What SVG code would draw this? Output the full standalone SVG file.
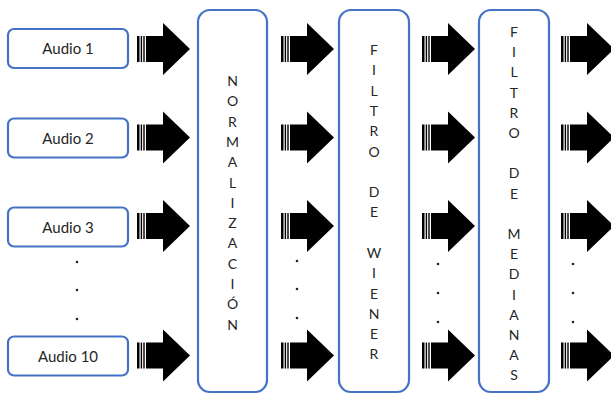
<svg xmlns="http://www.w3.org/2000/svg" xmlns:xlink="http://www.w3.org/1999/xlink" width="611" height="394" viewBox="0 0 611 394">
  <style>
    .src { fill: #ffffff; stroke: #4472c4; stroke-width: 2.2; }
    .stage { fill: #ffffff; stroke: #4472c4; stroke-width: 2.2; }
    .lbl { font-family: Lato, "Liberation Sans", sans-serif; font-size: 15px; fill: #262626; text-anchor: middle; }
    .vlbl { font-family: Lato, "Liberation Sans", sans-serif; font-size: 14px; fill: #262626; text-anchor: middle; }
    .dot { fill: #262626; }
  </style>
  <defs>
    <!-- striped block arrow, origin at left edge / vertical centre -->
    <g id="arrow">
      <rect x="0" y="-13" width="2.5" height="26" fill="#000"/>
      <rect x="3.7" y="-13" width="1.4" height="26" fill="#000"/>
      <rect x="6.3" y="-13" width="1.4" height="26" fill="#000"/>
      <polygon points="9,-13 26,-13 26,-26 53,0 26,26 26,13 9,13" fill="#000"/>
    </g>
  </defs>

  <rect width="611" height="394" fill="#ffffff"/>

  <g id="audio1">
    <rect class="src" x="8" y="29" width="120" height="39" rx="6"/>
    <text class="lbl" x="68" y="54">Audio 1</text>
  </g>
  <g id="audio2">
    <rect class="src" x="8" y="118.5" width="120" height="39" rx="6"/>
    <text class="lbl" x="68" y="143.5">Audio 2</text>
  </g>
  <g id="audio3">
    <rect class="src" x="8" y="207.5" width="120" height="39" rx="6"/>
    <text class="lbl" x="68" y="232.5">Audio 3</text>
  </g>
  <g id="audio10">
    <rect class="src" x="8" y="336.5" width="120" height="39" rx="6"/>
    <text class="lbl" x="68" y="361.5">Audio 10</text>
  </g>

  <g id="normalizacion">
    <rect class="stage" x="198" y="10" width="69" height="382" rx="12"/>
    <text class="vlbl">
      <tspan x="232.5" y="86">N</tspan><tspan x="232.5" dy="20.3">O</tspan><tspan x="232.5" dy="20.3">R</tspan><tspan x="232.5" dy="20.3">M</tspan><tspan x="232.5" dy="20.3">A</tspan><tspan x="232.5" dy="20.3">L</tspan><tspan x="232.5" dy="20.3">I</tspan><tspan x="232.5" dy="20.3">Z</tspan><tspan x="232.5" dy="20.3">A</tspan><tspan x="232.5" dy="20.3">C</tspan><tspan x="232.5" dy="20.3">I</tspan><tspan x="232.5" dy="20.3">Ó</tspan><tspan x="232.5" dy="20.3">N</tspan>
    </text>
  </g>

  <g id="filtro-wiener">
    <rect class="stage" x="339" y="10" width="70" height="382" rx="12"/>
    <text class="vlbl">
      <tspan x="374" y="55">F</tspan><tspan x="374" dy="20.3">I</tspan><tspan x="374" dy="20.3">L</tspan><tspan x="374" dy="20.3">T</tspan><tspan x="374" dy="20.3">R</tspan><tspan x="374" dy="20.3">O</tspan><tspan x="374" dy="40.6">D</tspan><tspan x="374" dy="20.3">E</tspan><tspan x="374" dy="40.6">W</tspan><tspan x="374" dy="20.3">I</tspan><tspan x="374" dy="20.3">E</tspan><tspan x="374" dy="20.3">N</tspan><tspan x="374" dy="20.3">E</tspan><tspan x="374" dy="20.3">R</tspan>
    </text>
  </g>

  <g id="filtro-medianas">
    <rect class="stage" x="479" y="10" width="70" height="382" rx="12"/>
    <text class="vlbl">
      <tspan x="514" y="37">F</tspan><tspan x="514" dy="20.2">I</tspan><tspan x="514" dy="20.2">L</tspan><tspan x="514" dy="20.2">T</tspan><tspan x="514" dy="20.2">R</tspan><tspan x="514" dy="20.2">O</tspan><tspan x="514" dy="40.4">D</tspan><tspan x="514" dy="20.2">E</tspan><tspan x="514" dy="40.4">M</tspan><tspan x="514" dy="20.2">E</tspan><tspan x="514" dy="20.2">D</tspan><tspan x="514" dy="20.2">I</tspan><tspan x="514" dy="20.2">A</tspan><tspan x="514" dy="20.2">N</tspan><tspan x="514" dy="20.2">A</tspan><tspan x="514" dy="20.2">S</tspan>
    </text>
  </g>

  <g id="connectors">
    <use xlink:href="#arrow" x="137" y="49"/>
    <use xlink:href="#arrow" x="137" y="137.5"/>
    <use xlink:href="#arrow" x="137" y="226"/>
    <use xlink:href="#arrow" x="137" y="355.5"/>

    <use xlink:href="#arrow" x="281" y="49"/>
    <use xlink:href="#arrow" x="281" y="137.5"/>
    <use xlink:href="#arrow" x="281" y="226"/>
    <use xlink:href="#arrow" x="281" y="355.5"/>

    <use xlink:href="#arrow" x="422" y="49"/>
    <use xlink:href="#arrow" x="422" y="137.5"/>
    <use xlink:href="#arrow" x="422" y="226"/>
    <use xlink:href="#arrow" x="422" y="355.5"/>

    <use xlink:href="#arrow" x="561" y="49"/>
    <use xlink:href="#arrow" x="561" y="137.5"/>
    <use xlink:href="#arrow" x="561" y="226"/>
    <use xlink:href="#arrow" x="561" y="355.5"/>
  </g>

  <!-- ellipsis dots between rows -->
  <g id="ellipses">
    <circle class="dot" cx="77" cy="262" r="1.3"/>
    <circle class="dot" cx="77" cy="290" r="1.3"/>
    <circle class="dot" cx="77" cy="319" r="1.3"/>
    <circle class="dot" cx="297" cy="261" r="1.3"/>
    <circle class="dot" cx="297" cy="289" r="1.3"/>
    <circle class="dot" cx="297" cy="318" r="1.3"/>
    <circle class="dot" cx="438" cy="264" r="1.3"/>
    <circle class="dot" cx="438" cy="293" r="1.3"/>
    <circle class="dot" cx="438" cy="322" r="1.3"/>
    <circle class="dot" cx="573" cy="264" r="1.3"/>
    <circle class="dot" cx="573" cy="293" r="1.3"/>
    <circle class="dot" cx="573" cy="322" r="1.3"/>
  </g>
</svg>
